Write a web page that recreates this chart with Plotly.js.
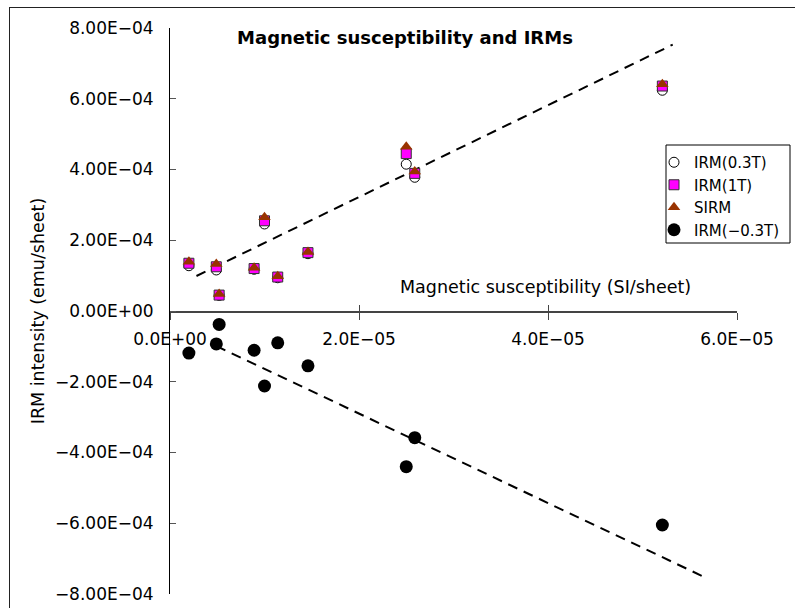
<!DOCTYPE html>
<html>
<head>
<meta charset="utf-8">
<script src="https://cdn.plot.ly/plotly-3.0.1.min.js"></script>
<style>
html,body{margin:0;padding:0;width:795px;height:608px;overflow:hidden;background:#fff;}
#frame{position:absolute;left:9px;top:7px;width:900px;height:800px;border:1.5px solid #222;box-sizing:border-box;}
#chart{position:absolute;left:0;top:0;width:795px;height:608px;}
</style>
</head>
<body>
<div id="frame"></div>
<div id="chart"></div>
<script>
// Magnetic susceptibility (SI/sheet)
const susceptibility = [2.0e-6, 4.9e-6, 5.2e-6, 8.9e-6, 1.0e-5, 1.14e-5, 1.46e-5, 2.5e-5, 2.59e-5, 5.21e-5];
// IRM intensities (emu/sheet)
const irm03 = [1.28e-4, 1.16e-4, 0.44e-4, 1.18e-4, 2.46e-4, 0.94e-4, 1.62e-4, 4.15e-4, 3.78e-4, 6.24e-4];
const irm1T = [1.35e-4, 1.25e-4, 0.45e-4, 1.20e-4, 2.55e-4, 0.96e-4, 1.65e-4, 4.45e-4, 3.89e-4, 6.36e-4];
const sirm = [1.39e-4, 1.33e-4, 0.48e-4, 1.22e-4, 2.65e-4, 0.98e-4, 1.67e-4, 4.64e-4, 3.94e-4, 6.41e-4];
const irmNeg03 = [-1.19e-4, -0.93e-4, -0.38e-4, -1.11e-4, -2.12e-4, -0.90e-4, -1.55e-4, -4.40e-4, -3.58e-4, -6.05e-4];
// trend lines (end points)
const trendPosX = [2.8e-6, 5.32e-5];
const trendPosY = [0.99e-4, 7.53e-4];
const trendNegX = [4.9e-6, 5.63e-5];
const trendNegY = [-0.99e-4, -7.49e-4];
// ticks
const yTickVals = [8e-4, 6e-4, 4e-4, 2e-4, 0, -2e-4, -4e-4, -6e-4, -8e-4];
const yTickText = ["8.00E\u221204", "6.00E\u221204", "4.00E\u221204", "2.00E\u221204", "0.00E+00", "\u22122.00E\u221204", "\u22124.00E\u221204", "\u22126.00E\u221204", "\u22128.00E\u221204"];
const xTickVals = [0, 2e-5, 4e-5, 6e-5];
const xTickText = ["0.0E+00", "2.0E\u221205", "4.0E\u221205", "6.0E\u221205"];
const seriesNames = ["IRM(0.3T)", "IRM(1T)", "SIRM", "IRM(\u22120.3T)"];

const FONT = "DejaVu Sans, sans-serif";
const dash = {color: "#000", width: 2, dash: "10px,7px"};

const data = [
  {x: trendPosX, y: trendPosY, mode: "lines", line: dash, showlegend: false, hoverinfo: "skip"},
  {x: trendNegX, y: trendNegY, mode: "lines", line: dash, showlegend: false, hoverinfo: "skip"},
  {x: susceptibility, y: irm03, name: seriesNames[0], mode: "markers", type: "scatter",
   marker: {symbol: "circle", size: 10, color: "#fff", line: {color: "#000", width: 1}}},
  {x: susceptibility, y: irm1T, name: seriesNames[1], mode: "markers", type: "scatter",
   marker: {symbol: "square", size: 10, color: "#ff00ff", line: {color: "#333", width: 1}}},
  {x: susceptibility, y: sirm, name: seriesNames[2], mode: "markers", type: "scatter",
   marker: {symbol: "triangle-up", size: 11, color: "#993300", line: {color: "#993300", width: 0}}},
  {x: susceptibility, y: irmNeg03, name: seriesNames[3], mode: "markers", type: "scatter",
   marker: {symbol: "circle", size: 13, color: "#000", line: {color: "#000", width: 0}}}
];
// invisible trace to activate xaxis2 overlay (inside tick marks)
data.push({x: xTickVals, y: [0,0,0,0], xaxis: "x2", mode: "markers", marker: {opacity: 0}, showlegend: false, hoverinfo: "skip"});

const layout = {
  width: 795, height: 608,
  margin: {l: 170, r: 58, t: 28, b: 14, autoexpand: false},
  paper_bgcolor: "rgba(0,0,0,0)",
  plot_bgcolor: "rgba(0,0,0,0)",
  font: {family: FONT, size: 16, color: "#000"},
  showlegend: true,
  title: {
    text: "<b>Magnetic susceptibility and IRMs</b>",
    font: {family: FONT, size: 18, color: "#000"},
    x: 405/795, xanchor: "center", xref: "container",
    y: 1 - 38/608, yanchor: "middle", yref: "container"
  },
  xaxis: {
    range: [0, 6e-5],
    anchor: "free", position: 0.5,
    showgrid: false, zeroline: false,
    showline: true, linecolor: "#444", linewidth: 1.5,
    ticks: "outside", ticklen: 7, tickcolor: "#444", tickwidth: 1,
    tickvals: xTickVals, ticktext: xTickText,
    tickfont: {family: FONT, size: 17, color: "#000"},
    ticklabelstandoff: 5
  },
  xaxis2: {
    range: [0, 6e-5], overlaying: "x",
    anchor: "free", position: 0.5,
    showgrid: false, zeroline: false, showline: false,
    ticks: "inside", ticklen: 6, tickcolor: "#444", tickwidth: 1,
    tickvals: xTickVals, showticklabels: false
  },
  yaxis: {
    range: [-8e-4, 8e-4],
    showgrid: false, zeroline: false,
    showline: true, linecolor: "#000", linewidth: 1,
    ticks: "inside", ticklen: 6, tickcolor: "#555", tickwidth: 1,
    tickvals: yTickVals, ticktext: yTickText,
    tickfont: {family: FONT, size: 17, color: "#000"},
    ticklabelstandoff: 12,
    title: {text: "IRM intensity (emu/sheet)", font: {family: FONT, size: 17.5, color: "#000"}, standoff: 5}
  },
  legend: {
    xref: "paper", yref: "paper",
    x: (654-170)/567, xanchor: "left",
    y: (594-146)/566, yanchor: "top",
    bgcolor: "rgba(0,0,0,0)", borderwidth: 0,
    font: {family: FONT, size: 15, color: "#000"},
    itemwidth: 30, tracegroupgap: 0
  },
  shapes: [{
    type: "rect", xref: "paper", yref: "paper", layer: "above",
    x0: (666-170)/567, x1: (790-170)/567,
    y0: (594-243)/566, y1: (594-145)/566,
    line: {color: "#000", width: 1}, fillcolor: "rgba(255,255,255,1)"
  }],
  annotations: [{
    text: "Magnetic susceptibility (SI/sheet)",
    xref: "paper", yref: "paper",
    x: (545-170)/567, y: (594-287)/566,
    xanchor: "center", yanchor: "middle",
    showarrow: false,
    font: {family: FONT, size: 17.5, color: "#000"}
  }]
};

Plotly.newPlot("chart", data, layout, {displayModeBar: false, staticPlot: true});
</script>
</body>
</html>
